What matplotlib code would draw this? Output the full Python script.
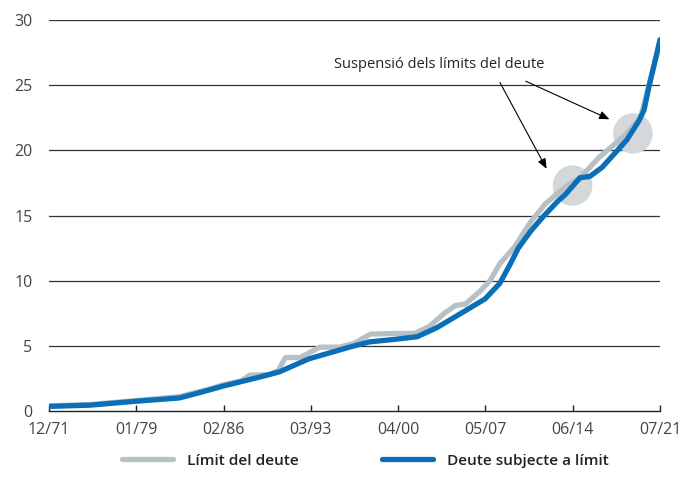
import matplotlib.pyplot as plt
from matplotlib.patches import Ellipse

plt.rcParams['font.family'] = ['Open Sans', 'DejaVu Sans']

# data (trillions USD), x in decimal years
limit_years = [1971.9, 1975.3, 1979.0, 1982.5, 1985.0, 1986.0, 1987.5, 1988.2, 1989.8,
               1990.5, 1991.1, 1992.3, 1993.9, 1995.5, 1996.7, 1998.0, 2000.0, 2001.6,
               2002.8, 2004.0, 2004.9, 2005.7, 2006.9, 2007.7, 2008.5, 2009.7, 2011.0,
               2012.2, 2013.8, 2015.0, 2016.6, 2018.7, 2019.9, 2021.5]
limit_vals = [0.4, 0.5, 0.8, 1.1, 1.7, 2.0, 2.3, 2.75, 2.8,
              3.1, 4.1, 4.1, 4.9, 4.9, 5.2, 5.9, 5.95, 5.95,
              6.5, 7.5, 8.1, 8.2, 9.2, 10.0, 11.3, 12.6, 14.5,
              15.9, 17.2, 17.9, 19.5, 21.2, 22.5, 28.3]

debt_years = [1971.9, 1975.3, 1979.0, 1982.5, 1984.5, 1986.0, 1989.0, 1990.6, 1993.0,
              1996.3, 1997.9, 2000.0, 2001.8, 2003.4, 2005.0, 2007.3, 2008.5, 2009.3,
              2010.0, 2011.0, 2012.0, 2013.2, 2013.8, 2015.0, 2015.8, 2016.8, 2018.8,
              2019.8, 2020.2, 2020.6, 2021.5]
debt_vals = [0.35, 0.45, 0.75, 1.0, 1.5, 1.9, 2.6, 3.0, 4.0,
             4.9, 5.3, 5.5, 5.7, 6.4, 7.3, 8.6, 9.8, 11.2,
             12.5, 13.8, 14.9, 16.1, 16.6, 17.9, 18.0, 18.7, 20.8,
             22.3, 23.1, 24.9, 28.5]

tick_pos = [1971.92, 1979.0, 1986.08, 1993.17, 2000.25, 2007.33, 2014.42, 2021.5]
tick_labels = ['12/71', '01/79', '02/86', '03/93', '04/00', '05/07', '06/14', '07/21']

suspensions = [(2014.4, 17.3), (2019.3, 21.3)]

fig = plt.figure(figsize=(6.97, 4.79), dpi=100)
ax = fig.add_axes([0.0703, 0.142, 0.8767, 0.816])

gray = '#b7c1c5'
blue = '#0a6fb6'

for y in range(5, 31, 5):
    ax.axhline(y, color='#333333', lw=0.9, zorder=0)

for cx, cy in suspensions:
    ax.add_patch(Ellipse((cx, cy), width=3.1, height=3.0, color='#d3d8da', zorder=1))

ax.plot(limit_years, limit_vals, color=gray, lw=3.8, solid_joinstyle='round',
        solid_capstyle='round', label='Límit del deute', zorder=2)
ax.plot(debt_years, debt_vals, color=blue, lw=3.8, solid_joinstyle='round',
        solid_capstyle='round', label='Deute subjecte a límit', zorder=3)

ax.set_xlim(1971.92, 2021.5)
ax.set_ylim(0, 30)
ax.set_xticks(tick_pos)
ax.set_xticklabels(tick_labels)
ax.set_yticks(range(0, 31, 5))
for s in ['top', 'right', 'left']:
    ax.spines[s].set_visible(False)
ax.spines['bottom'].set_color('#222222')
ax.spines['bottom'].set_linewidth(1.0)
ax.tick_params(axis='x', direction='in', length=4, width=1, color='#222222',
               labelsize=11.5, labelcolor='#444444', pad=8)
ax.tick_params(axis='y', length=0, labelsize=11.5, labelcolor='#444444', pad=12)

ax.text(2003.6, 26.6, 'Suspensió dels límits del deute', ha='center', va='center',
        fontsize=10.5, color='#222222')
arrow = dict(arrowstyle='-|>,head_length=0.6,head_width=0.25', color='black', lw=0.8)
ax.annotate('', xy=(2012.4, 18.4), xytext=(2008.4, 25.4), arrowprops=arrow)
ax.annotate('', xy=(2017.6, 22.3), xytext=(2010.4, 25.4), arrowprops=arrow)

leg = fig.legend(loc='lower center', ncol=2, frameon=False, bbox_to_anchor=(0.524, -0.005),
                 fontsize=11.1, handlelength=3.3, columnspacing=5.4, handletextpad=0.9)
for t in leg.get_texts():
    t.set_fontweight('semibold')
    t.set_color('#222222')

fig.savefig('out.png', dpi=100)
